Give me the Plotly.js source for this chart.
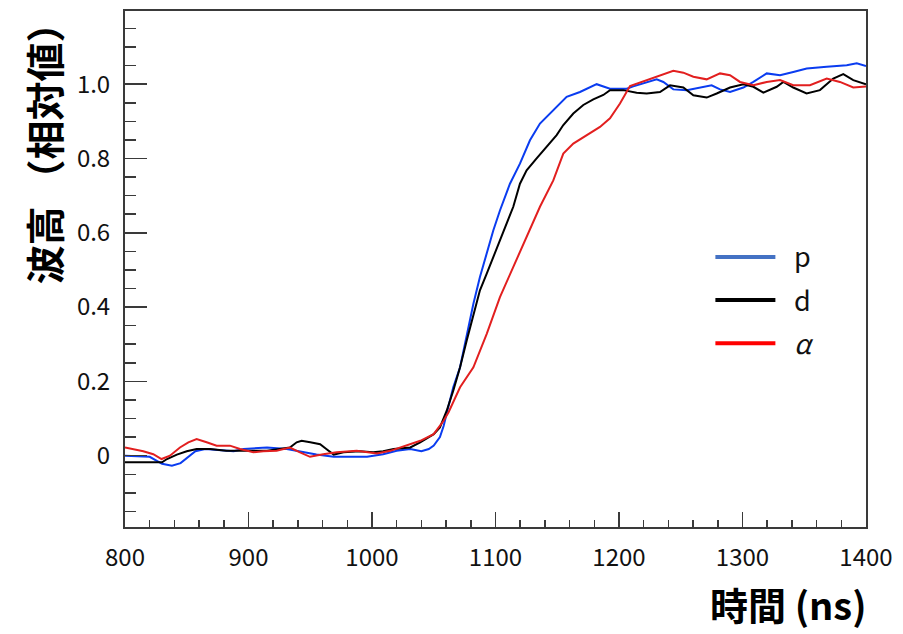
<!DOCTYPE html>
<html>
<head>
<meta charset="utf-8">
<script src="https://cdn.plot.ly/plotly-3.0.1.min.js"></script>
<style>html,body{margin:0;padding:0;background:#fff;}#chart{width:903px;height:634px;}</style>
</head>
<body>
<div id="chart"></div>
<script>
// Series p (proton)
const pX = [800,820,830,838,845,851,857,865,875,888,896,915,931,942,955,969,985,996,1009,1020,1031,1040,1046,1050,1055,1058,1061,1065.8,1071.3,1076.7,1082.1,1087.4,1092.9,1098.2,1103.6,1111.7,1119.8,1127.9,1136,1146.8,1157.6,1168.4,1181.9,1192.7,1206.2,1211.6,1222.4,1230.5,1235.9,1244,1254.8,1265.6,1275,1281.8,1289.9,1300.7,1308.8,1319.6,1330.4,1341.1,1352,1368.2,1384.4,1392.5,1400];
const pY = [0.0,-0.003,-0.022,-0.027,-0.02,-0.003,0.012,0.018,0.015,0.012,0.018,0.022,0.018,0.011,0.003,-0.003,-0.004,-0.003,0.004,0.013,0.018,0.012,0.018,0.027,0.05,0.08,0.121,0.184,0.238,0.328,0.409,0.481,0.544,0.606,0.660,0.732,0.786,0.849,0.894,0.930,0.966,0.979,1.0,0.988,0.988,0.994,1.006,1.013,1.006,0.986,0.984,0.991,0.997,0.986,0.979,0.991,1.006,1.029,1.024,1.033,1.042,1.047,1.051,1.056,1.049];
// Series d (deuteron)
const dX = [800,820,830,834,842,850,858,869,882,900,915,925,933.5,939,943,950,958,963,969,977,990,1001,1009,1017.5,1031,1039,1050,1055,1060.5,1065.8,1071.3,1076.7,1082.1,1087.4,1092.9,1098.2,1103.6,1109,1114.4,1119.8,1125.2,1133.3,1141.4,1149.5,1154.9,1163,1171.1,1179.2,1187.3,1192.7,1203.5,1214.3,1222.4,1233.2,1241.3,1252.1,1260.2,1271,1279.1,1289.9,1300.7,1308.8,1316.9,1327.7,1333.1,1341.1,1351.9,1362.7,1373.5,1381.6,1389.7,1400];
const dY = [-0.018,-0.018,-0.018,-0.009,0.003,0.012,0.018,0.018,0.013,0.013,0.013,0.018,0.022,0.036,0.04,0.036,0.031,0.018,0.003,0.009,0.012,0.009,0.012,0.018,0.022,0.036,0.058,0.076,0.121,0.175,0.238,0.310,0.382,0.445,0.490,0.535,0.580,0.625,0.670,0.732,0.768,0.800,0.831,0.863,0.890,0.921,0.944,0.959,0.971,0.984,0.984,0.977,0.975,0.979,0.997,0.991,0.970,0.964,0.975,0.991,1.0,0.993,0.977,0.993,1.006,0.991,0.975,0.984,1.015,1.027,1.011,1.0];
// Series alpha
const aX = [800,806.7,814.8,822.9,829.6,836.4,844.5,851.3,858,866.1,874.2,885,893.1,903.9,912,922.8,933.5,941.7,949.8,960.5,971.4,987.6,1004,1014.8,1028.3,1039.1,1049.9,1058,1062,1071.3,1082.1,1092.9,1103.6,1114.4,1125.2,1136,1146.8,1154.9,1163,1173.8,1184.6,1192.7,1200.8,1208.9,1222.4,1233.2,1244,1252.1,1260.2,1271,1281.8,1289.9,1298,1308.8,1319.6,1330.4,1341.1,1354.6,1368.2,1378.9,1389.7,1400];
const aY = [0.022,0.018,0.012,0.004,-0.009,0.0,0.022,0.036,0.045,0.036,0.027,0.027,0.018,0.009,0.012,0.013,0.022,0.009,-0.003,0.004,0.009,0.013,0.006,0.013,0.027,0.040,0.058,0.094,0.117,0.184,0.238,0.328,0.427,0.508,0.589,0.670,0.741,0.813,0.840,0.863,0.885,0.908,0.948,0.995,1.011,1.024,1.036,1.031,1.020,1.013,1.029,1.024,1.006,0.997,1.006,1.011,0.997,0.997,1.015,1.006,0.991,0.994];

const seriesNames = ['\u2002p', '\u2002d', '\u2002<i>α</i>'];
const yTickVals = [0, 0.2, 0.4, 0.6, 0.8, 1.0];
const yTickText = ['0', '0.2', '0.4', '0.6', '0.8', '1.0'];
const yMinorVals = [-0.15,-0.1,-0.05,0.05,0.1,0.15,0.25,0.3,0.35,0.45,0.5,0.55,0.65,0.7,0.75,0.85,0.9,0.95,1.05,1.1,1.15];
const xTickVals = [800, 900, 1000, 1100, 1200, 1300, 1400];
const xTickText = ['800', '900', '1000', '1100', '1200', '1300', '1400'];
const xTitle = '時間 (ns)';
const yTitle = '波高\u2009（相対値）';

const dataColors = ['#0a3cf0', '#000000', '#e21f1f'];
const legendColors = ['#4472c4', '#000000', '#ff0000'];
const FONT = '"Noto Sans CJK JP", "Noto Sans", sans-serif';

const series = [[pX, pY], [dX, dY], [aX, aY]];
const traces = [];
series.forEach((s, i) => {
  traces.push({x: s[0], y: s[1], type: 'scatter', mode: 'lines',
    line: {color: dataColors[i], width: 2}, showlegend: false, hoverinfo: 'skip'});
});
series.forEach((s, i) => {
  traces.push({x: [null], y: [null], type: 'scatter', mode: 'lines', name: seriesNames[i],
    legendgroup: 'g' + i, line: {color: legendColors[i], width: 4}, showlegend: true});
});

const axisCommon = {
  showgrid: false, zeroline: false, showline: true, mirror: true,
  linecolor: '#3a3a3a', linewidth: 2, ticks: 'inside', tickcolor: '#3a3a3a', tickwidth: 1.5,
  tickfont: {family: FONT, size: 24, color: '#111'}
};

const layout = {
  width: 903, height: 634,
  margin: {l: 125, r: 37, t: 11, b: 107},
  paper_bgcolor: '#fff', plot_bgcolor: '#fff',
  showlegend: true,
  legend: {x: 0.79, y: 0.57, xanchor: 'left', yanchor: 'top', bgcolor: 'rgba(0,0,0,0)',
    font: {family: FONT, size: 27, color: '#111'}, traceorder: 'grouped', tracegroupgap: 5, itemwidth: 60},
  xaxis: Object.assign({}, axisCommon, {
    range: [800, 1400], tickmode: 'array', tickvals: xTickVals, ticktext: xTickText,
    ticklen: 15, ticklabelstandoff: 8,
    minor: {dtick: 20, ticklen: 7, ticks: 'inside', tickcolor: '#3a3a3a', tickwidth: 1.5, showgrid: false}
  }),
  yaxis: Object.assign({}, axisCommon, {
    range: [-0.192, 1.197], tickmode: 'array', tickvals: yTickVals, ticktext: yTickText,
    ticklen: 22, ticklabelstandoff: 8,
    minor: {tickvals: yMinorVals, ticklen: 11, ticks: 'inside', tickcolor: '#3a3a3a', tickwidth: 1.5, showgrid: false}
  }),
  annotations: [
    {text: '<b>' + xTitle + '</b>', xref: 'paper', yref: 'paper', x: 1.004, y: -0.149,
      xanchor: 'right', yanchor: 'middle', showarrow: false,
      font: {family: FONT, size: 38, color: '#000'}},
    {text: '<b>' + yTitle + '</b>', xref: 'paper', yref: 'paper', x: -0.111, y: 0.743,
      xanchor: 'center', yanchor: 'middle', textangle: -90, showarrow: false,
      font: {family: FONT, size: 39, color: '#000'}}
  ]
};

Plotly.newPlot('chart', traces, layout, {displayModeBar: false, staticPlot: true});
</script>
</body>
</html>
